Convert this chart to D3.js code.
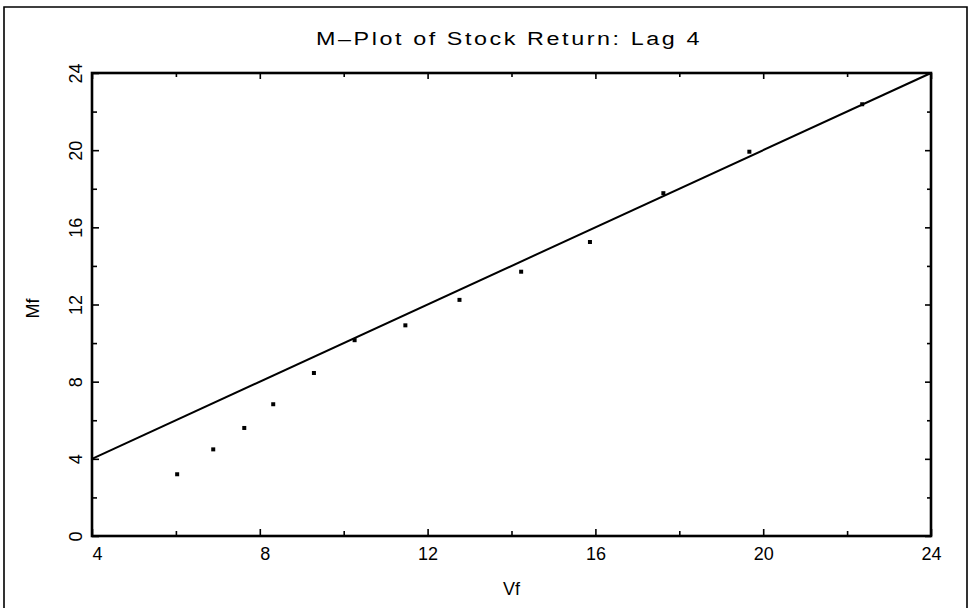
<!DOCTYPE html>
<html>
<head>
<meta charset="utf-8">
<script src="https://cdn.jsdelivr.net/npm/d3@7"></script>
<style>
  html, body { margin: 0; padding: 0; background: #fff; }
  svg { display: block; font-family: "Liberation Sans", Arial, Helvetica, sans-serif; }
</style>
</head>
<body>
<svg id="chart" width="970" height="608"></svg>
<script>
// M-plot data: sample quantiles (Vf) against model quantiles (Mf)
const vf = [6.03, 6.89, 7.63, 8.32, 9.29, 10.26, 11.47, 12.76, 14.23, 15.87, 17.62, 19.67, 22.36];
const mf = [3.20, 4.49, 5.60, 6.83, 8.45, 10.15, 10.92, 12.24, 13.70, 15.24, 17.77, 19.92, 22.38];

// 45-degree reference line
const refLine = [[4, 4], [24, 24]];

const xTicks = [4, 8, 12, 16, 20, 24];
const yTicks = [0, 4, 8, 12, 16, 20, 24];
const xMinor = d3.range(4, 25, 2);
const yMinor = d3.range(0, 25, 2);

const title = "M\u2013Plot of Stock Return: Lag 4";
const xLabel = "Vf";
const yLabel = "Mf";

const svg = d3.select("#chart");
const W = 970, H = 608;
const m = { left: 92, right: W - 931, top: 73, bottom: H - 536 };

const x = d3.scaleLinear().domain([4, 24]).range([m.left, W - m.right]);
const y = d3.scaleLinear().domain([0, 24]).range([H - m.bottom, m.top]);

// page frame
svg.append("path")
  .attr("d", `M4,${H} V7 H967 V${H}`)
  .attr("fill", "none").attr("stroke", "#000").attr("stroke-width", 1.6);

// title, widened to the plotter's spaced lettering
svg.append("text")
  .attr("x", 509).attr("y", 45)
  .attr("text-anchor", "middle")
  .attr("font-size", 18)
  .attr("letter-spacing", 2)
  .attr("textLength", 386)
  .attr("lengthAdjust", "spacingAndGlyphs")
  .text(title);

const tickLen = v => (v % 4 === 0 ? 7 : 5);

// bottom axis: labels, inward ticks
const pad2 = d3.format("2d");
const xAxis = d3.axisBottom(x).tickValues(xMinor).tickSize(0).tickPadding(0)
  .tickFormat(d => xTicks.includes(d) ? pad2(d).replace(/ /g, "\u2007") : "");
const gx = svg.append("g").attr("transform", `translate(0,${H - m.bottom})`).call(xAxis);
gx.select(".domain").remove();
gx.selectAll("text").attr("font-size", 18).attr("fill", "#000").attr("dy", null).attr("y", 24);
gx.selectAll(".tick").append("line")
  .attr("y1", 0).attr("y2", d => -tickLen(d))
  .attr("stroke", "#000").attr("stroke-width", 1.6);

// top axis ticks
const gxt = svg.append("g").attr("transform", `translate(0,${m.top})`)
  .call(d3.axisTop(x).tickValues(xMinor).tickSize(0).tickFormat(""));
gxt.select(".domain").remove();
gxt.selectAll(".tick").append("line")
  .attr("y1", 0).attr("y2", d => tickLen(d) - 1)
  .attr("stroke", "#000").attr("stroke-width", 1.6);

// left axis: rotated labels, inward ticks
const yAxis = d3.axisLeft(y).tickValues(yMinor).tickSize(0).tickPadding(0)
  .tickFormat(d => yTicks.includes(d) ? String(d) : "");
const gy = svg.append("g").attr("transform", `translate(${m.left},0)`).call(yAxis);
gy.select(".domain").remove();
gy.selectAll("text")
  .attr("font-size", 18).attr("fill", "#000")
  .attr("x", null).attr("dy", null)
  .attr("text-anchor", "middle")
  .attr("transform", "translate(-10,0) rotate(-90)");
gy.selectAll(".tick").append("line")
  .attr("x1", 0).attr("x2", d => tickLen(d))
  .attr("stroke", "#000").attr("stroke-width", 1.6);

// right axis ticks
const gyr = svg.append("g").attr("transform", `translate(${W - m.right},0)`)
  .call(d3.axisRight(y).tickValues(yMinor).tickSize(0).tickFormat(""));
gyr.select(".domain").remove();
gyr.selectAll(".tick").append("line")
  .attr("x1", 0).attr("x2", d => -(tickLen(d) - 1))
  .attr("stroke", "#000").attr("stroke-width", 1.6);

// plot box
svg.append("rect")
  .attr("x", x(4)).attr("y", y(24))
  .attr("width", x(24) - x(4)).attr("height", y(0) - y(24))
  .attr("fill", "none").attr("stroke", "#000").attr("stroke-width", 2.6);

// axis titles
svg.append("text")
  .attr("x", (x(4) + x(24)) / 2).attr("y", 595)
  .attr("text-anchor", "middle").attr("font-size", 18)
  .text(xLabel);
svg.append("text")
  .attr("transform", `translate(39,${(y(0) + y(24)) / 2 + 4}) rotate(-90)`)
  .attr("text-anchor", "middle").attr("font-size", 18)
  .text(yLabel);

// reference line
svg.append("path")
  .datum(refLine)
  .attr("d", d3.line().x(d => x(d[0])).y(d => y(d[1])))
  .attr("fill", "none").attr("stroke", "#000").attr("stroke-width", 2);

// points
svg.append("g").selectAll("rect")
  .data(d3.zip(vf, mf))
  .join("rect")
  .attr("x", d => x(d[0]) - 2).attr("y", d => y(d[1]) - 2)
  .attr("width", 4).attr("height", 4)
  .attr("fill", "#000");
</script>
</body>
</html>
